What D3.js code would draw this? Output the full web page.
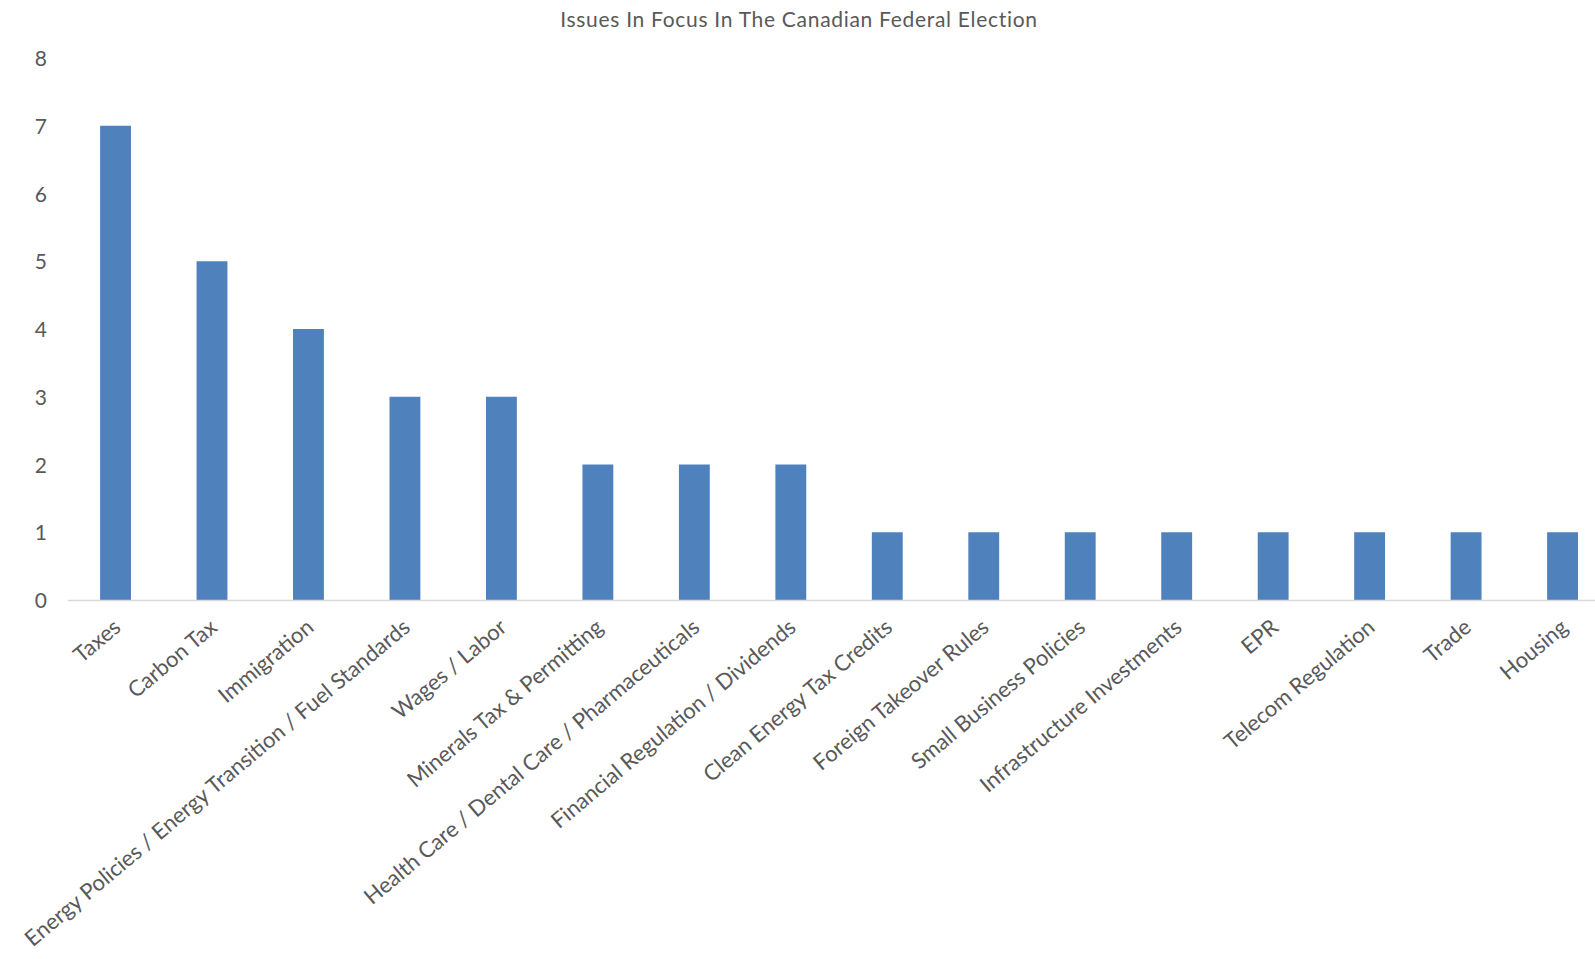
<!DOCTYPE html>
<html>
<head>
<meta charset="utf-8">
<script src="https://cdn.jsdelivr.net/npm/d3@7"></script>
<style>
  html, body { margin: 0; padding: 0; background: #fff; overflow: hidden; }
  svg { display: block; }
  text { font-family: Lato, "Open Sans", sans-serif; fill: #595959; }
</style>
</head>
<body>
<svg id="chart" width="1595" height="959"></svg>
<script>
const title = "Issues In Focus In The Canadian Federal Election";
const categories = [
  "Taxes", "Carbon Tax", "Immigration",
  "Energy Policies / Energy Transition / Fuel Standards",
  "Wages / Labor", "Minerals Tax & Permitting",
  "Health Care / Dental Care / Pharmaceuticals",
  "Financial Regulation / Dividends", "Clean Energy Tax Credits",
  "Foreign Takeover Rules", "Small Business Policies",
  "Infrastructure Investments", "EPR", "Telecom Regulation",
  "Trade", "Housing"
];
const values = [7, 5, 4, 3, 3, 2, 2, 2, 1, 1, 1, 1, 1, 1, 1, 1];
const yTicks = [0, 1, 2, 3, 4, 5, 6, 7, 8];

const svg = d3.select("#chart");

const x = d3.scaleBand()
  .domain(categories)
  .range([67.3, 1610.8])
  .paddingInner(0.68)
  .paddingOuter(0.34);

const y = d3.scaleLinear().domain([0, 8]).range([600, 58]);

// title
svg.append("text")
  .attr("x", 799)
  .attr("y", 27)
  .attr("text-anchor", "middle")
  .style("font-size", "21px")
  .style("letter-spacing", "0.7px")
  .text(title);

// bars
svg.append("g").selectAll("rect")
  .data(categories)
  .join("rect")
  .attr("x", d => x(d))
  .attr("width", x.bandwidth())
  .attr("y", (d, i) => y(values[i]))
  .attr("height", (d, i) => y(0) - y(values[i]))
  .attr("fill", "#4F81BD");

// y axis (labels only)
const yAxis = svg.append("g")
  .attr("transform", "translate(47,0)")
  .call(d3.axisLeft(y).tickValues(yTicks).tickSize(0).tickPadding(0).tickFormat(d3.format("d")));
yAxis.select(".domain").remove();
yAxis.selectAll("text")
  .style("font-size", "21px")
  .style("font-family", "Lato, 'Open Sans', sans-serif")
  .attr("fill", "#595959")
  .attr("dy", "0.36em");

// x axis
const xAxis = svg.append("g")
  .attr("transform", "translate(0,600)")
  .call(d3.axisBottom(x).tickSize(0).tickPadding(0));
xAxis.select(".domain")
  .attr("stroke", "#D9D9D9")
  .attr("stroke-width", 1.5);
xAxis.selectAll(".tick text")
  .style("font-size", "22px")
  .style("font-family", "Lato, 'Open Sans', sans-serif")
  .attr("fill", "#595959")
  .attr("text-anchor", "end")
  .attr("y", 0)
  .attr("dy", "0.75em")
  .attr("transform", "translate(-4,17) rotate(-40)");
</script>
</body>
</html>
